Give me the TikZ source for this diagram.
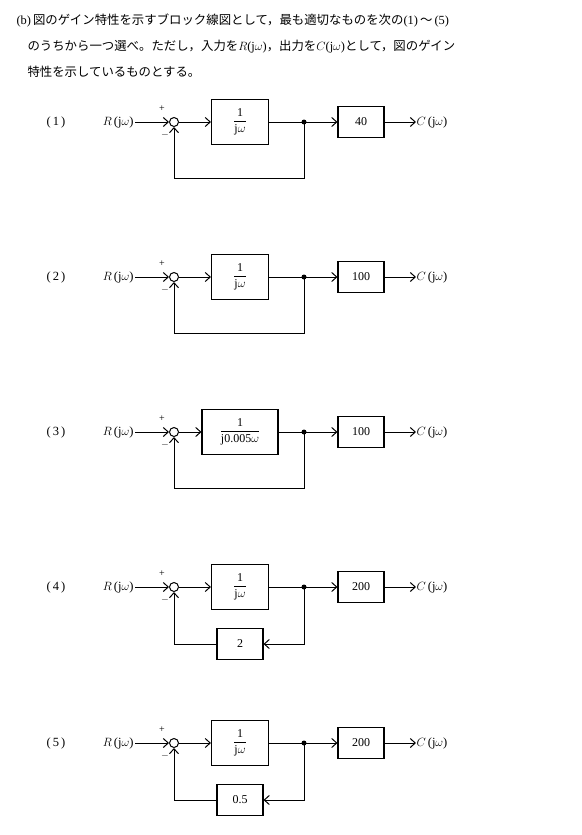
\documentclass[tikz,border=0pt]{standalone}
\usepackage{amsmath}
\usepackage{fontspec}
\setmainfont{Liberation Serif}
\newfontfamily\jp{Noto Sans CJK JP}
\usetikzlibrary{arrows.meta}
\begin{document}
\begin{tikzpicture}[x=1pt,y=-1pt,
  line width=1pt,
  >={Straight Barb[length=5pt,width=9pt]},
  blk/.style={draw,line width=1.1pt,minimum height=31pt,minimum width=46pt,inner sep=0pt,font=\fontsize{12}{14}\selectfont},
  sumc/.style={draw,circle,minimum size=9pt,inner sep=0pt},
  dot/.style={fill,circle,minimum size=5pt,inner sep=0pt},
  lbl/.style={font=\fontsize{12.5}{14}\selectfont,inner sep=0pt},
  sgn/.style={font=\fontsize{10}{11}\selectfont,inner sep=0pt},
  txt/.style={anchor=west,inner sep=0pt,font=\fontsize{12.4}{14}\selectfont}]
\useasboundingbox (0,0) rectangle (581,835);
% question text
\node[txt] (t1) at (16,21) {(b)\,{\jp 図のゲイン特性を示すブロック線図として，最も適切なものを次の}(1)\,{\jp ～}\,(5)};
\node[txt] (t2) at (27,47) {{\jp のうちから一つ選べ。ただし，入力を}$R$(j$\omega$){\jp ，出力を}$C$(j$\omega$){\jp として，図のゲイン}};
\node[txt] (t3) at (27,72) {{\jp 特性を示しているものとする。}};
% rows 1-3: unity feedback
\foreach \i/\Y/\g/\den/\w in {1/122/40/{j$\omega$}/57, 2/277/100/{j$\omega$}/57, 3/432/100/{j0.005$\omega$}/76}{
  \node[lbl] (n\i) at (56,\Y) {(\,\i\,)};
  \node[lbl,anchor=east] (r\i) at (134,\Y) {$R$\,(j$\omega$)};
  \node[sumc] (s\i) at (174,\Y) {};
  \node[blk,minimum width=\w pt,minimum height=45pt] (a\i) at (240,\Y) {$\genfrac{}{}{0.4pt}{0}{\text{1}}{\text{\den}}$};
  \node[dot] (d\i) at (304,\Y) {};
  \node[blk] (b\i) at (361,\Y) {\g};
  \node[lbl,anchor=west] (c\i) at (416,\Y) {$C$\,(j$\omega$)};
  \node[sgn] (p\i) at (162,\Y-13) {+};
  \node[sgn] (m\i) at (165,\Y+13) {$-$};
  \draw[->] (r\i.east) ++(1,0) -- (s\i.west);
  \draw[->] (s\i.east) -- (a\i.west);
  \draw (a\i.east) -- (d\i.center);
  \draw[->] (d\i.center) -- (b\i.west);
  \draw[->] (b\i.east) -- (c\i.west);
  \draw[->] (d\i.center) -- ++(0,56) -| (s\i.south);
}
% rows 4-5: feedback gain
\foreach \i/\Y/\h in {4/587/2, 5/743/0.5}{
  \node[lbl] (n\i) at (56,\Y) {(\,\i\,)};
  \node[lbl,anchor=east] (r\i) at (134,\Y) {$R$\,(j$\omega$)};
  \node[sumc] (s\i) at (174,\Y) {};
  \node[blk,minimum width=57pt,minimum height=45pt] (a\i) at (240,\Y) {$\genfrac{}{}{0.4pt}{0}{\text{1}}{\text{j$\omega$}}$};
  \node[dot] (d\i) at (304,\Y) {};
  \node[blk] (b\i) at (361,\Y) {200};
  \node[blk] (f\i) at (240,\Y+57) {\h};
  \node[lbl,anchor=west] (c\i) at (416,\Y) {$C$\,(j$\omega$)};
  \node[sgn] (p\i) at (162,\Y-13) {+};
  \node[sgn] (m\i) at (165,\Y+13) {$-$};
  \draw[->] (r\i.east) ++(1,0) -- (s\i.west);
  \draw[->] (s\i.east) -- (a\i.west);
  \draw (a\i.east) -- (d\i.center);
  \draw[->] (d\i.center) -- (b\i.west);
  \draw[->] (b\i.east) -- (c\i.west);
  \draw[->] (d\i.center) |- (f\i.east);
  \draw[->] (f\i.west) -| (s\i.south);
}
\end{tikzpicture}
\end{document}
